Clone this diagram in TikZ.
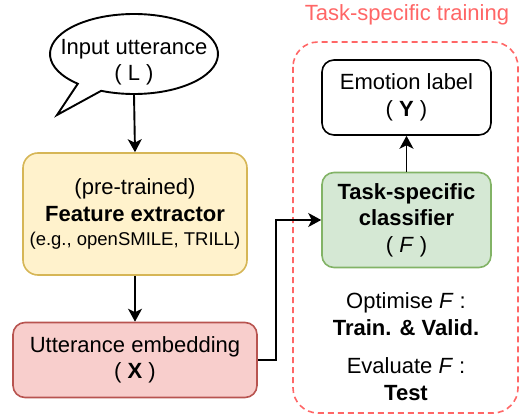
\documentclass[tikz,border=0pt]{standalone}
\usepackage{fontspec}
\setmainfont{Liberation Sans}
\usetikzlibrary{arrows.meta,shapes.geometric}
\definecolor{yfill}{HTML}{FFF2CC}
\definecolor{ydraw}{HTML}{D6B656}
\definecolor{rfill}{HTML}{F8CECC}
\definecolor{rdraw}{HTML}{B85450}
\definecolor{gfill}{HTML}{D5E8D4}
\definecolor{gdraw}{HTML}{82B366}
\definecolor{dashred}{HTML}{FF6666}
\tikzset{
  base/.style={font=\fontsize{22}{26.5}\selectfont, align=center},
  box/.style={base, draw, line width=1.6pt, rounded corners=12pt, inner sep=0pt},
  conn/.style={line width=1.9pt, -{Stealth[length=13pt,width=14pt,inset=3.5pt]}},
  bubble/.style={draw, line width=1.9pt, fill=white}
}
\begin{document}
\begin{tikzpicture}[x=1pt,y=-1pt]
\useasboundingbox (0,0) rectangle (519,417);
% task-specific frame
\draw[dashred, line width=1.6pt, dash pattern=on 6pt off 4pt, rounded corners=25pt] (293,42) rectangle (518,413);
\node[base, text=dashred] (title) at (407,15) {Task-specific training};
% bubble
\node[ellipse, minimum width=168pt, minimum height=80pt, inner sep=0pt] (input) at (134,54) {};
\draw[bubble] ([shift={(input.center)}]247:84pt and 40pt) -- (57,115) -- ([shift={(input.center)}]228:84pt and 40pt)
  arc[start angle=228, end angle=-113, x radius=84pt, y radius=40pt] -- cycle;
\node[base] (inputtxt) at (134,62) {Input utterance\\( L )};
% boxes
\node[box, fill=yfill, draw=ydraw, minimum width=224pt, minimum height=122pt, rounded corners=15pt] (feat) at (135,214)
  {(pre-trained)\\\textbf{Feature extractor}\\[-2pt]{\fontsize{18.5}{22}\selectfont (e.g., openSMILE, TRILL)}};
\node[box, fill=rfill, draw=rdraw, minimum width=244pt, minimum height=75pt] (emb) at (135,360)
  {Utterance embedding\\( \textbf{X} )};
\node[box, fill=white, draw=black, minimum width=169pt, minimum height=75pt] (emo) at (406.5,97.5)
  {Emotion label\\( \textbf{Y} )};
\node[box, fill=gfill, draw=gdraw, minimum width=169pt, minimum height=95pt] (clf) at (406.5,220)
  {\textbf{Task-specific}\\\textbf{classifier}\\( \textit{F} )};
\node[base] (opt) at (406,314) {Optimise \textit{F} :\\\textbf{Train. \& Valid.}};
\node[base] (eval) at (406,379) {Evaluate \textit{F} :\\\textbf{Test}};
% connectors
\draw[conn] (input.south) -- (feat.north);
\draw[conn] (feat.south) -- (emb.north);
\draw[conn] (clf.north) -- (emo.south);
\draw[conn] (emb.east) -- ++(18,0) |- (clf.west);
\end{tikzpicture}
\end{document}
